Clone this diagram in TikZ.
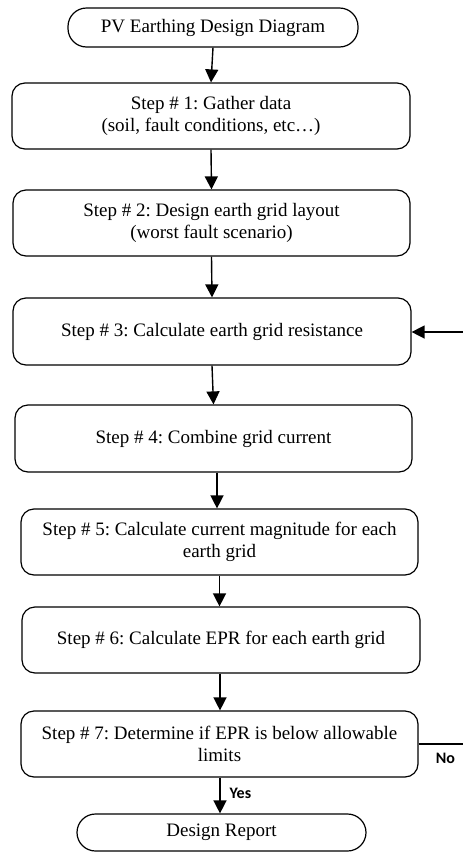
\documentclass[tikz,border=0pt]{standalone}
\usepackage{fontspec}
\setmainfont{Liberation Serif}
\newfontfamily\boxfont{Liberation Serif}
\newfontfamily\lblfont{Carlito}
\frenchspacing
\usetikzlibrary{arrows.meta}
\begin{document}
\begin{tikzpicture}[x=1pt,y=-1pt,
  box/.style={draw, line width=1.2pt, rounded corners=13pt, align=center,
    inner sep=0pt, font=\boxfont\fontsize{19}{22.5}\selectfont},
  term/.style={box, rounded corners=18.5pt},
  arr/.style={line width=1.4pt, -{Triangle[length=13pt,width=13pt]}},
  lbl/.style={font=\lblfont\bfseries\fontsize{16}{18}\selectfont, inner sep=0pt}]
\useasboundingbox (0,0) rectangle (463,852);
\node[term, minimum width=290pt, minimum height=39pt] (t) at (213,27.5) {PV Earthing Design Diagram};
\node[box, minimum width=398pt, minimum height=66pt] (s1) at (211,116) {Step \# 1: Gather data\\(soil, fault conditions, etc\ldots)};
\node[box, minimum width=397pt, minimum height=66pt] (s2) at (211.5,223) {Step \# 2: Design earth grid layout\\(worst fault scenario)};
\node[box, minimum width=398pt, minimum height=67pt] (s3) at (212,331.5) {Step \# 3: Calculate earth grid resistance};
\node[box, minimum width=397pt, minimum height=67pt] (s4) at (213.5,438.5) {Step \# 4: Combine grid current};
\node[box, minimum width=397pt, minimum height=66pt] (s5) at (219.5,542) {Step \# 5: Calculate current magnitude for each\\earth grid};
\node[box, minimum width=398pt, minimum height=66pt] (s6) at (221,640) {Step \# 6: Calculate EPR for each earth grid};
\node[box, minimum width=397pt, minimum height=66pt] (s7) at (219.5,744) {Step \# 7: Determine if EPR is below allowable\\limits};
\node[term, minimum width=289pt, minimum height=37pt] (r) at (221.5,832.5) {Design Report};
\coordinate (inR) at (463,332);
\coordinate (outR) at (463,744);
\draw[arr] (t.south) -- (s1.north);
\draw[arr] (s1.south) -- (s2.north);
\draw[arr] (s2.south) -- (s3.north);
\draw[arr] (s3.south) -- (s4.north);
\draw[arr] (s4.south -| 217,0) -- (s5.north -| 217,0);
\draw[arr] (s5.south) -- (s6.north -| s5.south);
\draw[arr] (s6.south -| 220,0) -- (s7.north -| 220,0);
\draw[arr] (s7.south -| 220,0) -- (r.north -| 220,0) node[lbl, pos=0.45, anchor=west, xshift=9pt] (yes) {Yes};
\draw[arr] (inR) -- (s3.east |- inR);
\draw[line width=1.2pt] (s7.east) -- (outR);
\node[lbl] (no) at (445.5,758) {No};
\end{tikzpicture}
\end{document}
